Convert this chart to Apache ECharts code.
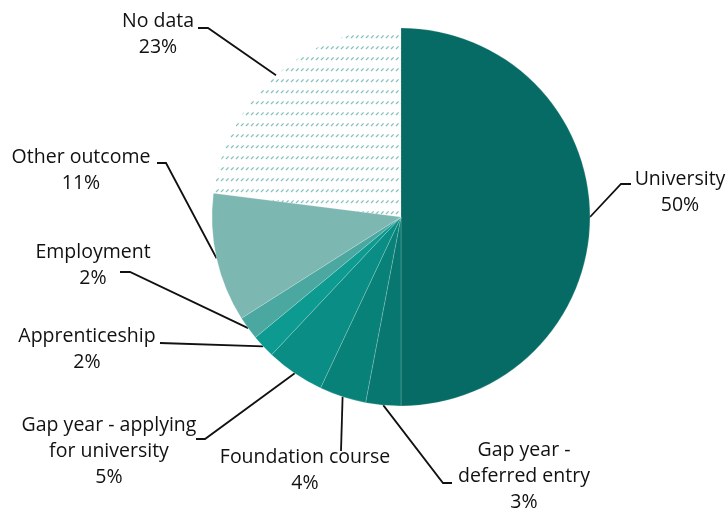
<!DOCTYPE html>
<html>
<head>
<meta charset="utf-8">
<script src="https://cdn.jsdelivr.net/npm/echarts@6/dist/echarts.min.js"></script>
<style>
  html, body { margin: 0; padding: 0; background: #fff; }
  #main { width: 726px; height: 509px; }
</style>
</head>
<body>
<div id="main"></div>
<script>
  // data
  const outcomes = [
    'University',
    'Gap year -\ndeferred entry',
    'Foundation course',
    'Gap year - applying\nfor university',
    'Apprenticeship',
    'Employment',
    'Other outcome',
    'No data'
  ];
  const shares = [50, 3, 4, 5, 2, 2, 11, 23];

  const sliceColours = ['#066b64', '#077770', '#088178', '#0a8d84', '#0d9a90', '#4aa8a0', '#7db7b1', null];

  // where each label sits: [label centre x, label top y, elbow x, elbow y, end x, end y]
  const labelSpots = [
    [680, 166, 621, 184, 631, 184],
    [524, 437, 443, 483, 452, 483],
    [305, 444, 341, 451, 341, 451],
    [109, 412, 205, 439, 196, 439],
    [87, 323, 160, 343, 160, 343],
    [93, 239, 130, 272, 120, 272],
    [81, 144, 166, 163, 157, 163],
    [158, 8, 208, 28, 198, 28]
  ];

  // dashed hatch for "No data"
  function hatch() {
    const c = document.createElement('canvas');
    c.width = 5;
    c.height = 11;
    const g = c.getContext('2d');
    g.strokeStyle = '#84c2bb';
    g.lineWidth = 1.3;
    g.beginPath();
    g.moveTo(1, 5);
    g.lineTo(3.6, 2.4);
    g.stroke();
    return c;
  }
  const hatchPattern = { image: hatch(), repeat: 'repeat' };

  const chart = echarts.init(document.getElementById('main'));

  chart.setOption({
    animation: false,
    textStyle: { fontFamily: 'Open Sans' },
    series: [{
      type: 'pie',
      center: [401, 217],
      radius: 189,
      startAngle: 90,
      clockwise: true,
      percentPrecision: 0,
      avoidLabelOverlap: false,
      emphasis: { disabled: true },
      itemStyle: {
        borderColor: 'rgba(255,255,255,0.3)',
        borderWidth: 0.6
      },
      label: {
        show: true,
        position: 'outside',
        formatter: '{b}\n{d}%',
        color: '#111',
        fontSize: 19.5,
        lineHeight: 26,
        fontFamily: 'Open Sans'
      },
      labelLine: {
        show: true,
        lineStyle: { color: '#111', width: 1.8 }
      },
      labelLayout: function (params) {
        const s = labelSpots[params.dataIndex];
        const p0 = params.labelLinePoints[0];
        return {
          x: s[0],
          y: s[1],
          align: 'center',
          verticalAlign: 'top',
          labelLinePoints: [p0, [s[2], s[3]], [s[4], s[5]]]
        };
      },
      data: outcomes.map(function (name, i) {
        return {
          name: name,
          value: shares[i],
          itemStyle: {
            color: sliceColours[i] || hatchPattern,
            borderWidth: sliceColours[i] ? 0.6 : 0
          }
        };
      })
    }]
  });
</script>
</body>
</html>
